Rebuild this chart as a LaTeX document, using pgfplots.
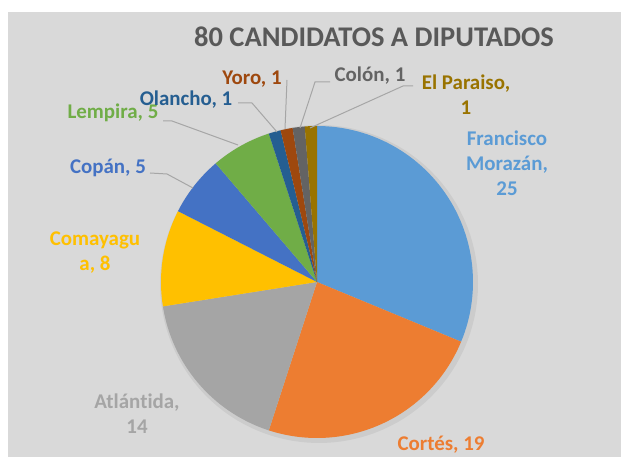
\documentclass[border=0pt]{standalone}
\usepackage{fontspec}
\setmainfont{Carlito}[Ligatures=NoCommon]
\usepackage{pgfplots}
\pgfplotsset{compat=1.18}

\definecolor{bg}{HTML}{D9D9D9}
\definecolor{cFM}{HTML}{5B9BD5}
\definecolor{cCO}{HTML}{ED7D31}
\definecolor{cAT}{HTML}{A5A5A5}
\definecolor{cCM}{HTML}{FFC000}
\definecolor{cCP}{HTML}{4472C4}
\definecolor{cLE}{HTML}{70AD47}
\definecolor{cOL}{HTML}{255E91}
\definecolor{cYO}{HTML}{9E480E}
\definecolor{cCL}{HTML}{636363}
\definecolor{cEP}{HTML}{997300}
\definecolor{titlegray}{HTML}{595959}

% one wedge: #1 = running total before it, #2 = value, #3 = colour (total 80, clockwise from 12 o'clock)
\newcommand{\slice}[3]{%
  \addplot[fill=#3, draw=none, domain=90-360/80*(#1+#2):90-360/80*(#1), samples=60]
    ({317+156*cos(x)}, {175+156*sin(x)}) -- (axis cs:317,175) -- cycle;
}

\begin{document}
\begin{tikzpicture}[
  lbl/.style={font=\bfseries\fontsize{10.5}{12.5}\selectfont, align=center},
  lead/.style={draw=black!35, line width=0.5bp},
]
\begin{axis}[
  scale only axis,
  width=310.5bp, height=228.5bp,
  xmin=0, xmax=621, ymin=0, ymax=457,
  hide axis, clip=false,
]
\fill[white] (axis cs:0,0) rectangle (axis cs:621,457);
\fill[bg] (axis cs:8,0) rectangle (axis cs:621,445);

% soft shadow
\addplot[fill=black, opacity=0.06, draw=none, domain=0:360, samples=120]
  ({319+159*cos(x)}, {173+159*sin(x)});

\slice{0}{25}{cFM}
\slice{25}{19}{cCO}
\slice{44}{14}{cAT}
\slice{58}{8}{cCM}
\slice{66}{5}{cCP}
\slice{71}{5}{cLE}
\slice{76}{1}{cOL}
\slice{77}{1}{cYO}
\slice{78}{1}{cCL}
\slice{79}{1}{cEP}

% leader lines
\draw[lead] (axis cs:238,354) -- (axis cs:252,354) -- (axis cs:277,325);
\draw[lead] (axis cs:163,336) -- (axis cs:172,336) -- (axis cs:238,312);
\draw[lead] (axis cs:150,284) -- (axis cs:167,283) -- (axis cs:193,269);
\draw[lead] (axis cs:287,377) -- (axis cs:285,328);
\draw[lead] (axis cs:330,375) -- (axis cs:315,375) -- (axis cs:300,329);
\draw[lead] (axis cs:413,371) -- (axis cs:403,371) -- (axis cs:310,329);

% title and labels
\node[font=\bfseries\fontsize{14.3}{16}\selectfont, text=titlegray] at (axis cs:374,420) {80 CANDIDATOS A DIPUTADOS};
\node[lbl, text=cFM] at (axis cs:507,294) {Francisco\\Morazán,\\25};
\node[lbl, text=cCO] at (axis cs:441,12) {Cortés, 19};
\node[lbl, text=cAT] at (axis cs:137,43) {Atlántida,\\14};
\node[lbl, text=cCM] at (axis cs:95,204) {Comayagu\\a, 8};
\node[lbl, text=cCP] at (axis cs:108,289) {Copán, 5};
\node[lbl, text=cLE] at (axis cs:113,344) {Lempira, 5};
\node[lbl, text=cOL] at (axis cs:186,357) {Olancho, 1};
\node[lbl, text=cYO] at (axis cs:252,378) {Yoro, 1};
\node[lbl, text=cCL] at (axis cs:370,381) {Colón, 1};
\node[lbl, text=cEP] at (axis cs:466,362) {El Paraiso,\\1};
\end{axis}
\end{tikzpicture}
\end{document}
